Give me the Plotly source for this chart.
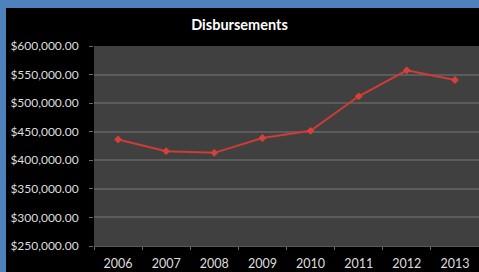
import plotly.graph_objects as go

years = ["2006", "2007", "2008", "2009", "2010", "2011", "2012", "2013"]
disbursements = [436500, 416000, 413000, 439000, 451500, 512000, 557500, 540500]
y_ticks = [250000, 300000, 350000, 400000, 450000, 500000, 550000, 600000]
y_tick_labels = ["${:,.2f}".format(v) for v in y_ticks]

W, H = 479, 272
ML, MR, MT, MB = 94, 0, 46, 26
PW, PH = W - ML - MR, H - MT - MB

def px_x(px):
    return (px - ML) / PW

def px_y(py):
    return 1 - (py - MT) / PH

fig = go.Figure()
fig.add_trace(go.Scatter(
    x=years, y=disbursements, mode="lines+markers",
    line=dict(color="#cf3b36", width=2),
    marker=dict(symbol="diamond", size=6, color="#d8403a"),
    hoverinfo="skip"
))

fig.update_layout(
    width=W, height=H,
    margin=dict(l=ML, r=MR, t=MT, b=MB),
    paper_bgcolor="#000000",
    plot_bgcolor="#404040",
    showlegend=False,
    title=dict(text="<b>Disbursements</b>", x=0.5, xref="container", xanchor="center",
               y=1 - 25 / H, yref="container", yanchor="middle",
               font=dict(family="Lato", size=14.5, color="#ffffff")),
    font=dict(family="Lato", size=12, color="#d9d9d9"),
    xaxis=dict(type="category", range=[-0.5, 7.5], showgrid=False,
               ticks="outside", tickson="boundaries", ticklen=3, tickcolor="#6a6a6a",
               showline=True, linecolor="#5a5a5a", linewidth=1,
               tickfont=dict(family="Lato", size=12.5, color="#dedede"),
               ticklabelstandoff=6, fixedrange=True),
    yaxis=dict(range=[250000, 600000], tickvals=y_ticks, ticktext=y_tick_labels,
               showgrid=True, gridcolor="#5c5c5c", gridwidth=1.5,
               ticks="outside", ticklen=4, tickcolor="#6a6a6a",
               showline=False, zeroline=False,
               tickfont=dict(family="Lato", size=12, color="#dedede"),
               ticklabelstandoff=8, fixedrange=True),
    shapes=[
        dict(type="rect", xref="paper", yref="paper", layer="above",
             x0=px_x(-2), x1=px_x(6), y0=px_y(H + 2), y1=px_y(-2),
             fillcolor="#4f81bd", line=dict(width=0)),
        dict(type="rect", xref="paper", yref="paper", layer="above",
             x0=px_x(-2), x1=px_x(W + 2), y0=px_y(8), y1=px_y(-2),
             fillcolor="#4f81bd", line=dict(width=0)),
    ],
)

fig.write_html("out.html", config={"displayModeBar": False},
               post_script="document.body.style.margin='0';document.body.style.overflow='hidden';")
